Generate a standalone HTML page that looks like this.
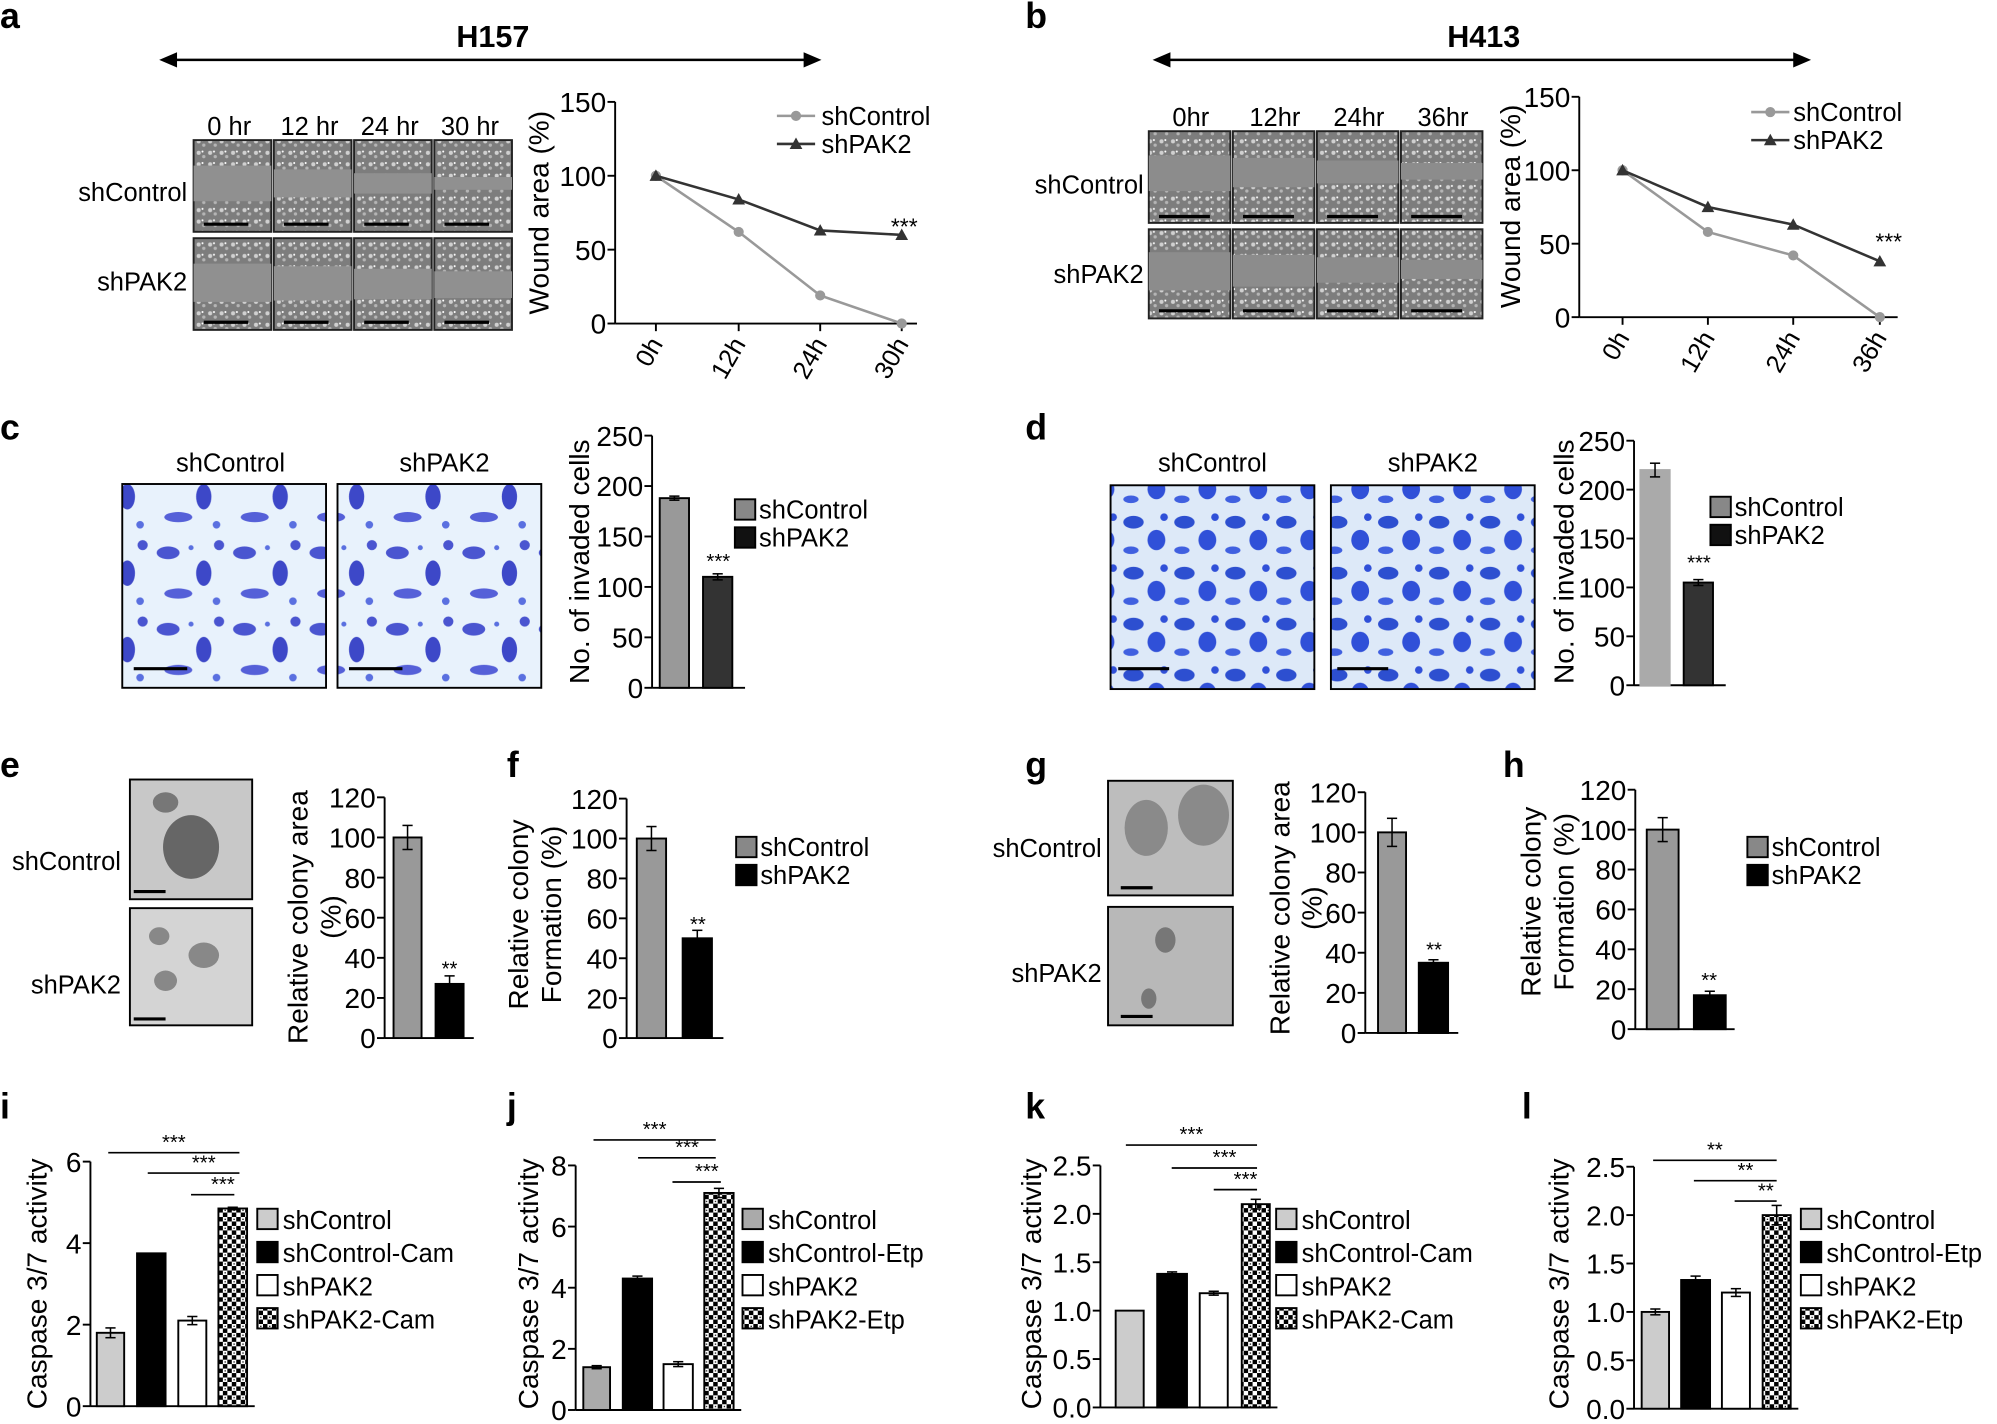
<!DOCTYPE html>
<html><head><meta charset="utf-8">
<style>
html,body{margin:0;padding:0;background:#fff;}
svg{display:block;font-family:"Liberation Sans",Arial,sans-serif;}
</style></head>
<body>
<svg id="s" width="1997" height="1424" viewBox="0 0 1568 1118" preserveAspectRatio="none" xmlns="http://www.w3.org/2000/svg">
<defs>
<pattern id="chk" width="7" height="7" patternUnits="userSpaceOnUse">
<rect width="7" height="7" fill="#fff"/><rect width="3.5" height="3.5" fill="#000"/><rect x="3.5" y="3.5" width="3.5" height="3.5" fill="#000"/><rect x="1.3" y="4.8" width="1" height="1" fill="#000"/>
</pattern>
<pattern id="inv" width="60" height="60" patternUnits="userSpaceOnUse">
<rect width="60" height="60" fill="#e8f2fc"/>
<ellipse cx="12" cy="14" rx="9" ry="5" fill="#4a55d0"/><ellipse cx="40" cy="30" rx="6" ry="10" fill="#3d48c8"/>
<ellipse cx="20" cy="46" rx="11" ry="4" fill="#5560d8"/><circle cx="52" cy="8" r="4" fill="#4a55d0"/>
<circle cx="30" cy="10" r="2" fill="#5a70e0"/><circle cx="50" cy="52" r="3" fill="#5a70e0"/>
</pattern>
<pattern id="inv2" width="40" height="40" patternUnits="userSpaceOnUse">
<rect width="40" height="40" fill="#dde9f8"/>
<ellipse cx="10" cy="10" rx="8" ry="5" fill="#2d4fd0"/><ellipse cx="28" cy="24" rx="7" ry="8" fill="#3050d8"/>
<ellipse cx="8" cy="32" rx="6" ry="3" fill="#4060e0"/><circle cx="34" cy="6" r="3" fill="#3050d8"/>
</pattern>
<pattern id="wound" width="9" height="9" patternUnits="userSpaceOnUse">
<rect width="9" height="9" fill="#7d7d7d"/><circle cx="3" cy="3" r="1.6" fill="#d0d0d0"/><circle cx="7" cy="6" r="1.3" fill="#b5b5b5"/><circle cx="6" cy="2" r="0.8" fill="#fff"/>
</pattern>
</defs>
</svg>
<script>
const S=document.getElementById('s');const NS='http://www.w3.org/2000/svg';
function el(t,a,txt){const e=document.createElementNS(NS,t);for(const k in a)e.setAttribute(k,a[k]);if(txt!==undefined)e.textContent=txt;S.appendChild(e);return e;}
function T(x,y,s,sz,anc,rot,wt){const a={x:x,y:y,'font-size':sz||20,'text-anchor':anc||'start',fill:'#000'};if(wt)a['font-weight']=wt;if(rot)a.transform=`rotate(${rot} ${x} ${y})`;el('text',a,s);}
function YL(cx,cy,s){T(cx+5.5,cy,s,22,'middle',-90);}
function L(x1,y1,x2,y2,w,c){el('line',{x1,y1,x2,y2,stroke:c||'#000','stroke-width':w||1.5});}
function R(x,y,w,h,f,st){el('rect',{x,y,width:w,height:h,fill:f,stroke:st||'none','stroke-width':1.5});}
function yaxis(x,yt,yb,max,step){L(x,yt,x,yb,1.5);for(let v=0;v<=max+1e-9;v+=step){const y=yb-(yb-yt)*v/max;L(x-6,y,x,y,1.5);T(x-7,y+8,(Number.isInteger(step)?v:v.toFixed(1)),22,'end');}}
function arrow(x1,x2,y){L(x1+10,y,x2-10,y,2);el('polygon',{points:`${x1},${y} ${x1+14},${y-6} ${x1+14},${y+6}`});el('polygon',{points:`${x2},${y} ${x2-14},${y-6} ${x2-14},${y+6}`});}
function bar(x,x2,yb,yt,max,v,fill,err,st){const w=x2-x;const y=yb-(yb-yt)*v/max;R(x,y,w,yb-y,fill,st||'#000');const ey=(yb-yt)*err/max;if(err>0){L(x+w/2,y-ey,x+w/2,y+ey,1.2);L(x+w/2-4,y-ey,x+w/2+4,y-ey,1.2);L(x+w/2-4,y+ey,x+w/2+4,y+ey,1.2);}return y;}
[['a',0,22],['b',805,22],['c',0,345],['d',805,345],['e',0,610],['f',398,610],['g',805,610],['h',1180,610],['i',0,878],['j',398,878],['k',805,878],['l',1195,878]].forEach(p=>T(p[1],p[2],p[0],28,'start',0,'bold'));
// a
arrow(125,645,47);T(387,37,'H157',24,'middle',0,'bold');
['0 hr','12 hr','24 hr','30 hr'].forEach((s,i)=>T(180+i*63,106,s,20,'middle'));
for(let i=0;i<4;i++){R(152+i*63,110,61,72,'url(#wound)','#222');R(152+i*63,187,61,72,'url(#wound)','#222');
R(152+i*63,130+i*3,61,28-i*6,'#909090');R(152+i*63,207+i*2,61,30-i*3,'#909090');L(160+i*63,176,195+i*63,176,2.5);L(160+i*63,253,195+i*63,253,2.5);}
T(147,158,'shControl',20,'end');T(147,228,'shPAK2',20,'end');
yaxis(483,80,254,150,50);L(483,254,720,254,1.5);
YL(425,167,'Wound area (%)');
const ax=[515,580,644,708];['0h','12h','24h','30h'].forEach((s,i)=>{L(ax[i],254,ax[i],260,1.5);T(ax[i]+6,270,s,20,'end',-60);});
function yv(v,yt,yb,m){return yb-(yb-yt)*v/m;}
function series(xs,vs,yt,yb,m,c,mk){el('polyline',{points:xs.map((x,i)=>x+','+yv(vs[i],yt,yb,m)).join(' '),fill:'none',stroke:c,'stroke-width':2});xs.forEach((x,i)=>{const y=yv(vs[i],yt,yb,m);if(mk=='c')el('circle',{cx:x,cy:y,r:4,fill:c});else el('polygon',{points:`${x},${y-5} ${x-5},${y+4} ${x+5},${y+4}`,fill:c});});}
series(ax,[100,62,19,0],80,254,150,'#999','c');series(ax,[100,84,63,60],80,254,150,'#333','t');
T(710,184,'***',18,'middle');
L(610,91,640,91,2,'#999');el('circle',{cx:625,cy:91,r:4,fill:'#999'});T(645,98,'shControl',20);
L(610,113,640,113,2,'#333');el('polygon',{points:'625,108 620,117 630,117',fill:'#333'});T(645,120,'shPAK2',20);
// b
arrow(905,1422,47);T(1165,37,'H413',24,'middle',0,'bold');
['0hr','12hr','24hr','36hr'].forEach((s,i)=>T(935+i*66,99,s,20,'middle'));
for(let i=0;i<4;i++){R(902+i*66,103,64,72,'url(#wound)','#222');R(902+i*66,180,64,70,'url(#wound)','#222');
R(902+i*66,122+i*2,64,28-i*5,'#8c8c8c');R(902+i*66,198+i*2,64,30-i*5,'#8c8c8c');L(910+i*66,170,950+i*66,170,2.5);L(910+i*66,244,950+i*66,244,2.5);}
T(898,152,'shControl',20,'end');T(898,222,'shPAK2',20,'end');
yaxis(1240,76,249,150,50);L(1240,249,1490,249,1.5);YL(1188,162,'Wound area (%)');
const bx=[1274,1341,1408,1476];['0h','12h','24h','36h'].forEach((s,i)=>{L(bx[i],249,bx[i],255,1.5);T(bx[i]+6,265,s,20,'end',-60);});
series(bx,[100,58,42,0],76,249,150,'#999','c');series(bx,[100,75,63,38],76,249,150,'#333','t');
T(1483,196,'***',18,'middle');
L(1375,88,1405,88,2,'#999');el('circle',{cx:1390,cy:88,r:4,fill:'#999'});T(1408,95,'shControl',20);
L(1375,110,1405,110,2,'#333');el('polygon',{points:'1390,105 1385,114 1395,114',fill:'#333'});T(1408,117,'shPAK2',20);
// c
T(181,370,'shControl',20,'middle');T(349,370,'shPAK2',20,'middle');
R(96,380,160,160,'url(#inv)','#000');R(265,380,160,160,'url(#inv)','#000');
L(105,525,147,525,2.5);L(274,525,316,525,2.5);
yaxis(512,342,540,250,50);L(512,540,585,540,1.5);YL(457,441,'No. of invaded cells');
bar(518,541,540,342,250,188,'#999',2);bar(552,575,540,342,250,110,'#333',3);T(564,446,'***',16,'middle');
R(577,392,16,16,'#888','#000');T(596,407,'shControl',20);R(577,414,16,16,'#111','#000');T(596,429,'shPAK2',20);
// d
T(952,370,'shControl',20,'middle');T(1125,370,'shPAK2',20,'middle');
R(872,381,160,160,'url(#inv2)','#000');R(1045,381,160,160,'url(#inv2)','#000');
L(878,525,918,525,2.5);L(1050,525,1090,525,2.5);
yaxis(1283,346,538,250,50);L(1283,538,1355,538,1.5);YL(1230,441,'No. of invaded cells');
bar(1288,1311,538,346,250,220,'#aaa',7,'#aaa');bar(1322,1345,538,346,250,105,'#333',3);T(1334,447,'***',16,'middle');
R(1343,390,16,16,'#888','#000');T(1362,405,'shControl',20);R(1343,412,16,16,'#111','#000');T(1362,427,'shPAK2',20);
// e
R(102,612,96,94,'#c8c8c8','#000');R(102,713,96,92,'#d4d4d4','#000');
el('ellipse',{cx:150,cy:665,rx:22,ry:25,fill:'#666'});el('ellipse',{cx:130,cy:630,rx:10,ry:8,fill:'#777'});
el('ellipse',{cx:125,cy:735,rx:8,ry:7,fill:'#888'});el('ellipse',{cx:160,cy:750,rx:12,ry:10,fill:'#888'});el('ellipse',{cx:130,cy:770,rx:9,ry:8,fill:'#888'});
L(105,700,130,700,2.5);L(105,800,130,800,2.5);
T(95,683,'shControl',20,'end');T(95,780,'shPAK2',20,'end');
yaxis(302,626,815,120,20);L(302,815,372,815,1.5);YL(236,720,'Relative colony area');YL(262,720,'(%)');
bar(309,331,815,626,120,100,'#999',6);bar(342,364,815,626,120,27,'#000',4);T(353,766,'**',16,'middle');
// f
yaxis(492,627,815,120,20);L(492,815,568,815,1.5);YL(409,718,'Relative colony');YL(435,718,'Formation (%)');
bar(500,523,815,627,120,100,'#999',6);bar(536,559,815,627,120,50,'#000',4);T(548,731,'**',16,'middle');
R(578,657,16,16,'#888','#000');T(597,672,'shControl',20);R(578,679,16,16,'#000','#000');T(597,694,'shPAK2',20);
// g
R(870,613,98,90,'#bdbdbd','#000');R(870,712,98,93,'#b8b8b8','#000');
el('ellipse',{cx:900,cy:650,rx:17,ry:22,fill:'#8a8a8a'});el('ellipse',{cx:945,cy:640,rx:20,ry:24,fill:'#8a8a8a'});
el('ellipse',{cx:915,cy:738,rx:8,ry:10,fill:'#777'});el('ellipse',{cx:902,cy:784,rx:6,ry:8,fill:'#777'});
L(880,697,905,697,2.5);L(880,798,905,798,2.5);
T(865,673,'shControl',20,'end');T(865,771,'shPAK2',20,'end');
yaxis(1072,622,811,120,20);L(1072,811,1145,811,1.5);YL(1007,713,'Relative colony area');YL(1032,713,'(%)');
bar(1082,1104,811,622,120,100,'#999',7);bar(1114,1137,811,622,120,35,'#000',1.5);T(1126,751,'**',16,'middle');
// h
yaxis(1284,620,808,120,20);L(1284,808,1362,808,1.5);YL(1204,708,'Relative colony');YL(1230,708,'Formation (%)');
bar(1293,1318,808,620,120,100,'#999',6);bar(1330,1355,808,620,120,17,'#000',2);T(1342,775,'**',16,'middle');
R(1372,657,16,16,'#888','#000');T(1391,672,'shControl',20);R(1372,679,16,16,'#000','#000');T(1391,694,'shPAK2',20);
// caspase
function casp(ax,yt,yb,max,step,bars,legx,legs,fills,lines,star,ylab){
 yaxis(ax,yt,yb,max,step);L(ax,yb,bars[3][1]+6,yb,1.5);YL(ylab,1008,'Caspase 3/7 activity');
 bars.forEach((b,i)=>bar(b[0],b[1],yb,yt,max,b[2],fills[i],b[3]));
 lines.forEach(l=>{L(l[0],l[2],l[1],l[2],1.3);T((l[0]+l[1])/2+(l===lines[0]?0:8),l[2]-3,star,16,'middle');});
 legs.forEach((s,i)=>{R(legx,949+i*26,16,16,fills[i],'#000');T(legx+20,965+i*26,s,20);});
}
casp(71,912,1104,6,2,[[76,97.5,1.8,0.12],[107.6,130,3.75,0],[140,162,2.1,0.1],[171.5,194,4.85,0.03]],202,['shControl','shControl-Cam','shPAK2','shPAK2-Cam'],['#ccc','#000','#fff','url(#chk)'],[[85,188,905],[116,188,921],[150,184,938]],'***',31);
casp(452,915,1107,8,2,[[458,479,1.4,0.05],[489,512,4.3,0.08],[521,544,1.5,0.08],[553,576,7.1,0.15]],583,['shControl','shControl-Etp','shPAK2','shPAK2-Etp'],['#aaa','#000','#fff','url(#chk)'],[[466,562,895],[501,562,909],[528,566,928]],'***',417);
casp(864,915,1105,2.5,0.5,[[876,898,1.0,0],[908.6,932,1.38,0.02],[942,964,1.18,0.02],[975,997,2.1,0.05]],1002,['shControl','shControl-Cam','shPAK2','shPAK2-Cam'],['#ccc','#000','#fff','url(#chk)'],[[884,987,899],[920,987,917],[953,987,934]],'***',812);
casp(1283,916,1106,2.5,0.5,[[1289,1310.5,1.0,0.03],[1320,1342.7,1.33,0.04],[1352,1374,1.2,0.04],[1384,1406,2.0,0.1]],1414,['shControl','shControl-Etp','shPAK2','shPAK2-Etp'],['#ccc','#000','#fff','url(#chk)'],[[1298,1395,911],[1330,1395,927],[1362,1395,943]],'**',1226);
</script>
</body></html>
